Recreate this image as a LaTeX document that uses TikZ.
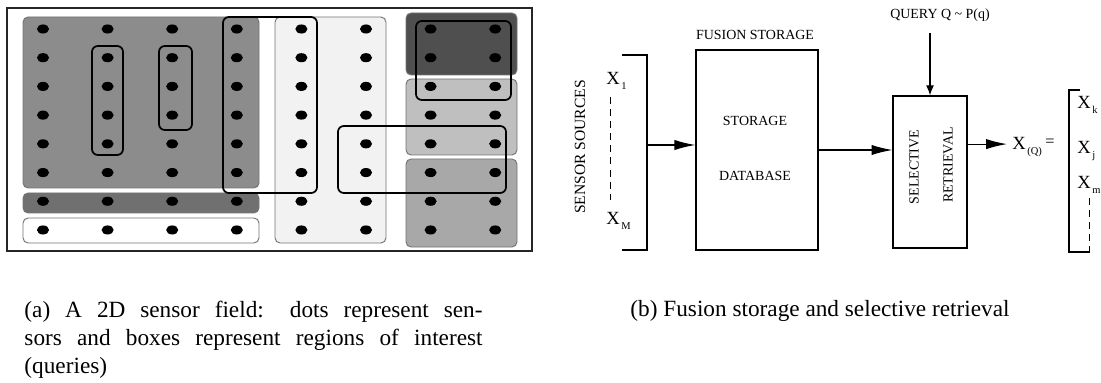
\documentclass[tikz,border=0pt]{standalone}
\usepackage{fontspec}
\setmainfont{Liberation Serif}
\usetikzlibrary{arrows.meta,positioning}
\newcommand{\Xs}[1]{X\kern.6pt\raisebox{-2.2pt}{\fontsize{4.5}{5}\selectfont #1}}

\begin{document}
\begin{tikzpicture}[x=0.43pt, y=-0.43pt,
    region/.style={draw=black!55, line width=0.4pt, rounded corners=2.2pt},
    query/.style={draw=black, line width=0.75pt, rounded corners=2.5pt},
    blk/.style={draw, line width=0.5pt, inner sep=0pt},
    lbl/.style={font=\fontsize{6}{7}\selectfont, inner sep=0pt},
    xl/.style={font=\fontsize{8}{9}\selectfont, inner sep=0pt, anchor=base west},
    captxt/.style={font=\fontsize{10}{12}\selectfont, inner sep=0pt},
    arr/.style={-{Latex[length=9pt,width=4.4pt]}, line width=0.5pt},
    arrsm/.style={-{Latex[length=4.3pt,width=3.4pt]}, line width=0.5pt}]
    \useasboundingbox (0,0) rectangle (1101,383);
    \begin{scope}
    \clip (0,0) rectangle (1101,383);
    % (a) sensor field
    \draw[line width=0.45pt, draw=black!85] (7,8) rectangle (532,251);
    \filldraw[region, fill=black!45] (23,17) rectangle (259,188);
    \filldraw[region, fill=black!56] (23,193) rectangle (259,213);
    \filldraw[region, fill=white] (23,218) rectangle (259,243);
    \filldraw[region, fill=black!5] (275,17) rectangle (386,243);
    \filldraw[region, fill=black!69] (406,13) rectangle (517,75);
    \filldraw[region, fill=black!25] (406,79) rectangle (517,155);
    \filldraw[region, fill=black!34] (406,159) rectangle (517,247);
    \foreach \i in {0,...,7}
        \foreach \j in {0,...,7}
            \fill ({43+64.6*\i},{29+28.71*\j}) ellipse (2.6pt and 1.95pt);
    \draw[query] (92,46) rectangle (123,155);
    \draw[query] (159,46) rectangle (192,130);
    \draw[query] (223,17) rectangle (317,193);
    \draw[query] (338,126) rectangle (506,193);
    \draw[query] (416,21) rectangle (511,100);
    % (b) fusion storage and retrieval
    \node[lbl, rotate=90, font=\fontsize{6.7}{7}\selectfont] (sens) at (580,147) {SENSOR SOURCES};
    \node[xl] (x1) at (606,84.5) {\Xs{1}};
    \node[xl] (xM) at (606,224.5) {\Xs{M}};
    \draw[dash pattern=on 3pt off 2.2pt] (610,97) -- (610,200);
    \draw[line width=0.5pt] (622,55) -- (647,55) -- (647,250) -- (622,250);
    \coordinate (src) at (647,145);
    \node[blk, minimum width=52.5pt, minimum height=86pt] (store) at (757,150) {};
    \node[lbl] (fus) at (755,35) {FUSION STORAGE};
    \node[lbl] (stor) at (755,121) {STORAGE};
    \node[lbl] (db) at (755,176) {DATABASE};
    \draw[arr] (src) -- (store.west |- src);
    \node[blk, minimum width=31.8pt, minimum height=65.4pt] (sel) at (930,172) {};
    \node[lbl, rotate=90] (selt) at (914,167) {SELECTIVE};
    \node[lbl, rotate=90] (rett) at (948,165) {RETRIEVAL};
    \node[lbl] (qry) at (940,15) {QUERY Q \textasciitilde\ P(q)};
    \coordinate (qtop) at (930,33);
    \draw[arrsm] (qtop) -- (sel.north);
    \draw[arr] (store.east) -- (sel.west |- store.east);
    \node[xl] (xq) at (1012,149.5) {\Xs{(Q)}};
    \draw[arr] ([yshift=12pt]sel.east) -- ([yshift=12pt]sel.east -| 1007,0);
    \node[lbl, font=\fontsize{7}{7}\selectfont] (eq) at (1050,143) {=};
    \draw[line width=0.5pt] (1080,90) -- (1069,90) -- (1069,252) -- (1090,252);
    \node[xl] (xk) at (1077,108.5) {\Xs{k}};
    \node[xl] (xj) at (1077,153.5) {\Xs{j}};
    \node[xl] (xm) at (1077,188.5) {\Xs{m}};
    \draw[dash pattern=on 3pt off 2.2pt] (1089,198) -- (1089,252);
    % captions
    \node[captxt, anchor=north west, text width=197pt, align=justify] (capa) at (24,301)
        {(a) A 2D sensor field: dots represent sen-\linebreak sors and boxes represent regions of interest\linebreak (queries)};
    \node[captxt, anchor=base] (capb) at (820,316) {(b) Fusion storage and selective retrieval};
    \end{scope}
\end{tikzpicture}
\end{document}
